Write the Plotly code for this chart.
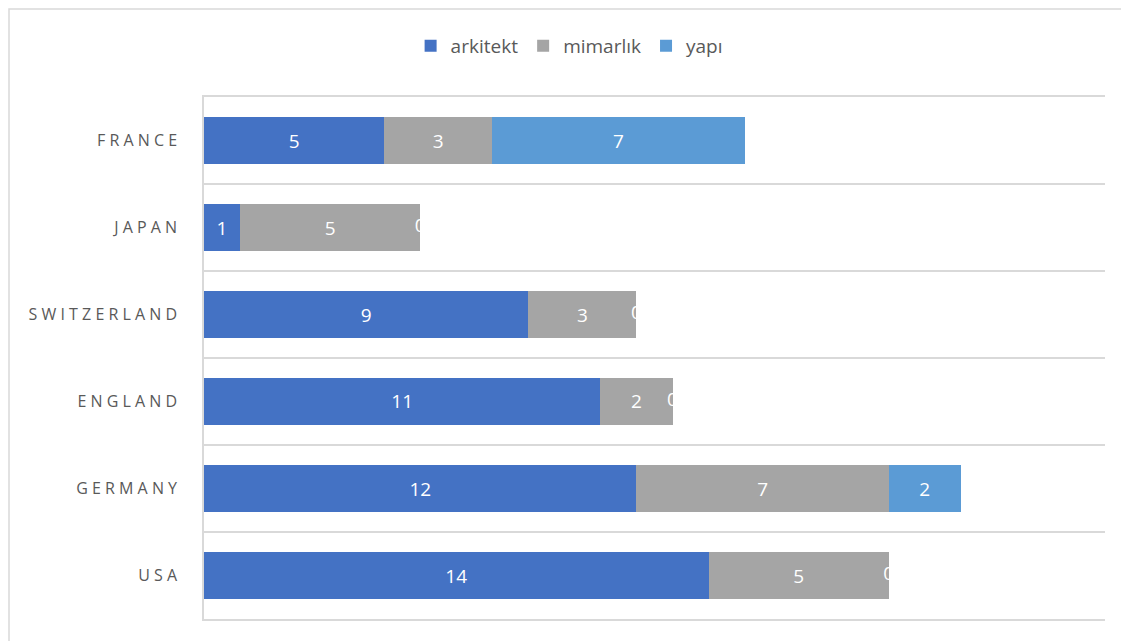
import plotly.graph_objects as go

countries = ["USA", "GERMANY", "ENGLAND", "SWITZERLAND", "JAPAN", "FRANCE"]
arkitekt = [14, 12, 11, 9, 1, 5]
mimarlik = [5, 7, 2, 3, 5, 3]
yapi = [0, 2, 0, 0, 0, 7]

series = [("arkitekt", arkitekt, "#4472C4"),
          ("mimarlık", mimarlik, "#A5A5A5"),
          ("yapı", yapi, "#5B9BD5")]

SP = " "
def spaced(s):
    return SP.join(list(s))

tick_text = [spaced(c) for c in countries]

fig = go.Figure()
for name, vals, color in series:
    fig.add_trace(go.Bar(
        y=countries, x=vals, name=name, orientation="h",
        marker=dict(color=color, line=dict(width=0)),
        text=[str(v) if v != 0 else "" for v in vals],
        textposition="inside", insidetextanchor="middle",
        textfont=dict(color="white", size=19, family="Open Sans"),
        constraintext="none",
        hoverinfo="x+name",
    ))

# zero-valued labels drawn at bar ends (as in the original)
zx, zy = [], []
for i, c in enumerate(countries):
    cum = arkitekt[i] + mimarlik[i]
    if yapi[i] == 0:
        zx.append(cum)
        zy.append(c)
fig.add_trace(go.Scatter(
    x=zx, y=zy, mode="text", text=["0"] * len(zx),
    textfont=dict(color="white", size=19, family="Open Sans"),
    showlegend=False, hoverinfo="skip", cliponaxis=False,
))

L, T, PW, PH = 196, 89, 901, 522
fig.update_layout(
    width=1129, height=641,
    barmode="stack", bargap=0.45,
    plot_bgcolor="white", paper_bgcolor="white",
    margin=dict(l=L, r=1129 - L - PW, t=T, b=641 - T - PH, autoexpand=False),
    font=dict(family="Open Sans", color="#595959"),
    legend=dict(orientation="h", xref="container", yref="container",
                x=0.497, xanchor="center", y=0.9407, yanchor="middle",
                font=dict(size=19, color="#595959"),
                itemwidth=30, traceorder="normal"),
    xaxis=dict(range=[0, 25], showgrid=False, zeroline=False,
               showticklabels=False, showline=True, mirror=True,
               linecolor="#D9D9D9", linewidth=1.5, automargin=False),
    yaxis=dict(type="category", categoryorder="array", categoryarray=countries,
               tickvals=countries, ticktext=tick_text,
               tickson="boundaries", ticks="", showgrid=True,
               gridcolor="#D9D9D9", gridwidth=1.5,
               showline=True, linecolor="#D9D9D9", linewidth=1.5,
               tickfont=dict(size=16, color="#595959"), ticklabelstandoff=22,
               range=[-0.5, 5.5], automargin=False),
    shapes=[dict(type="rect", xref="paper", yref="paper",
                 x0=(1 - L) / PW, x1=1.1, y0=-0.2, y1=(T + PH - 1) / PH,
                 line=dict(color="#D9D9D9", width=1.5), layer="below")],
)

fig.write_html("out.html")
